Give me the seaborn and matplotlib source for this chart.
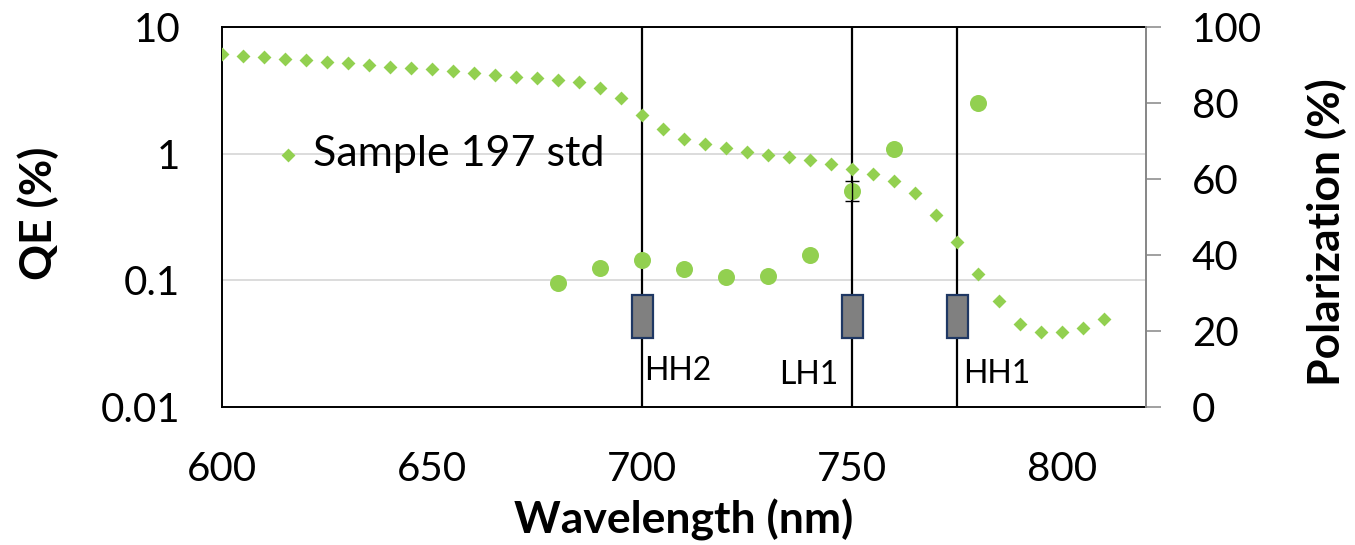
import matplotlib
matplotlib.use("Agg")
import matplotlib.pyplot as plt
import seaborn as sns
import numpy as np
import pandas as pd
from matplotlib.ticker import FixedLocator, NullLocator

# Quantum efficiency (log scale, left axis)
wavelength_qe = [600, 605, 610, 615, 620, 625, 630, 635, 640, 645, 650, 655,
                 660, 665, 670, 675, 680, 685, 690, 695, 700, 705, 710, 715,
                 720, 725, 730, 735, 740, 745, 750, 755, 760, 765, 770, 775,
                 780, 785, 790, 795, 800, 805, 810]
qe = [6.10, 5.90, 5.77, 5.62, 5.52, 5.32, 5.22, 5.01, 4.86, 4.72, 4.64, 4.50,
      4.31, 4.16, 4.01, 3.94, 3.82, 3.68, 3.30, 2.77, 2.03, 1.57, 1.31, 1.19,
      1.10, 1.04, 0.98, 0.935, 0.89, 0.83, 0.757, 0.69, 0.61, 0.49, 0.33, 0.20,
      0.113, 0.069, 0.0455, 0.0389, 0.0389, 0.0419, 0.0499]

# Polarization (right axis)
wavelength_pol = [680, 690, 700, 710, 720, 730, 740, 750, 760, 780]
polarization = [32.6, 36.5, 38.6, 36.3, 34.3, 34.4, 40.0, 56.9, 67.8, 80.0]
pol_err = [0, 0, 0, 0, 0, 0, 0, 2.7, 0, 0]

# Calculated transition energies
transition_wl = [700, 750, 775]
transition_names = ["HH2", "LH1", "HH1"]
box_low = [18.2, 18.2, 18.2]
box_high = [29.4, 29.4, 29.4]

series_label = "Sample 197 std"

GREEN = "#92D050"
TICK_FS = 29
LABEL_FS = 32

sns.set_style("white")
plt.rcParams["font.family"] = ["Lato", "DejaVu Sans"]
plt.rcParams["axes.unicode_minus"] = False
plt.rcParams["text.color"] = "black"
plt.rcParams["axes.labelcolor"] = "black"
plt.rcParams["xtick.color"] = "black"
plt.rcParams["ytick.color"] = "black"

fig = plt.figure(figsize=(13.55, 5.45), dpi=100)
ax = fig.add_axes([222 / 1355, 1 - 407 / 545, (1146 - 222) / 1355, (407 - 27) / 545])
ax2 = ax.twinx()

df_qe = pd.DataFrame({"wl": wavelength_qe, "qe": qe})
df_pol = pd.DataFrame({"wl": wavelength_pol, "pol": polarization, "err": pol_err})

# transition markers: vertical lines behind the data
for wl in transition_wl:
    ax.axvline(wl, color="black", lw=1.6, zorder=1)

sns.scatterplot(data=df_qe, x="wl", y="qe", ax=ax, marker="D", s=50,
                color=GREEN, linewidth=0, label=series_label, zorder=3)

ax.set_yscale("log")
ax.set_ylim(0.01, 10)
ax.set_xlim(600, 820)
ax.yaxis.set_major_locator(FixedLocator([0.01, 0.1, 1, 10]))
ax.yaxis.set_minor_locator(NullLocator())
ax.set_yticklabels(["0.01", "0.1", "1", "10"])
ax.grid(axis="y", which="major", color="#D9D9D9", lw=1.3)
ax.set_axisbelow(True)

ax.xaxis.set_major_locator(FixedLocator([600, 650, 700, 750, 800]))
ax.xaxis.set_minor_locator(FixedLocator([610, 620, 630, 640, 660, 670, 680, 690,
                                         710, 720, 730, 740, 760, 770, 780, 790, 810]))
ax.tick_params(axis="x", which="major", direction="inout", length=21, width=1.3,
               color="black", labelcolor="black", labelsize=TICK_FS, pad=21)
ax.tick_params(axis="x", which="minor", direction="in", length=8, width=1.1,
               color="black")
ax.tick_params(axis="y", which="both", length=0, labelsize=TICK_FS, pad=30,
               labelcolor="black")
ax.tick_params(top=False, right=False)

for side in ["left", "bottom", "top"]:
    ax.spines[side].set_visible(True)
    ax.spines[side].set_color("black")
    ax.spines[side].set_linewidth(1.4)
ax.spines["right"].set_visible(False)

ax.set_xlabel("Wavelength (nm)", fontsize=LABEL_FS, fontweight="bold", labelpad=8)
ax.set_ylabel("QE (%)", fontsize=LABEL_FS, fontweight="bold")
ax.yaxis.set_label_coords(-0.176, 0.51)

leg = ax.legend(loc="upper left", bbox_to_anchor=(0.057, 0.715), frameon=False,
                fontsize=31, handlelength=0.6, handletextpad=0.3,
                borderpad=0, borderaxespad=0, markerscale=1.0)

# polarization axis
ax2.bar(transition_wl, np.subtract(box_high, box_low), bottom=box_low, width=5,
        color="#808080", edgecolor="#1F3864", linewidth=1.6, zorder=2)
sns.scatterplot(data=df_pol, x="wl", y="pol", ax=ax2, marker="o", s=150,
                color=GREEN, linewidth=0, zorder=4, legend=False)
err_rows = df_pol[df_pol["err"] > 0]
ax2.errorbar(err_rows["wl"], err_rows["pol"], yerr=err_rows["err"], fmt="none",
             ecolor="black", elinewidth=1.0, capsize=4.7, capthick=1.0, zorder=5)

ax2.set_ylim(0, 100)
ax2.yaxis.set_major_locator(FixedLocator([0, 20, 40, 60, 80, 100]))
ax2.tick_params(axis="y", direction="out", length=11, width=1.1, color="#868686",
                labelcolor="black", labelsize=TICK_FS, pad=22)
ax2.set_ylabel("Polarization (%)", fontsize=LABEL_FS, fontweight="bold", rotation=90)
ax2.yaxis.set_label_coords(1.172, 0.459)
for side in ["left", "bottom", "top"]:
    ax2.spines[side].set_visible(False)
ax2.spines["right"].set_color("#868686")
ax2.spines["right"].set_linewidth(1.4)
ax2.set_xlim(600, 820)

# transition names
ax2.text(700.6, 7.2, transition_names[0], fontsize=23, ha="left", va="baseline")
ax2.text(746.8, 6.0, transition_names[1], fontsize=23, ha="right", va="baseline")
ax2.text(776.5, 6.3, transition_names[2], fontsize=23, ha="left", va="baseline")

fig.savefig("out.png", dpi=100)
